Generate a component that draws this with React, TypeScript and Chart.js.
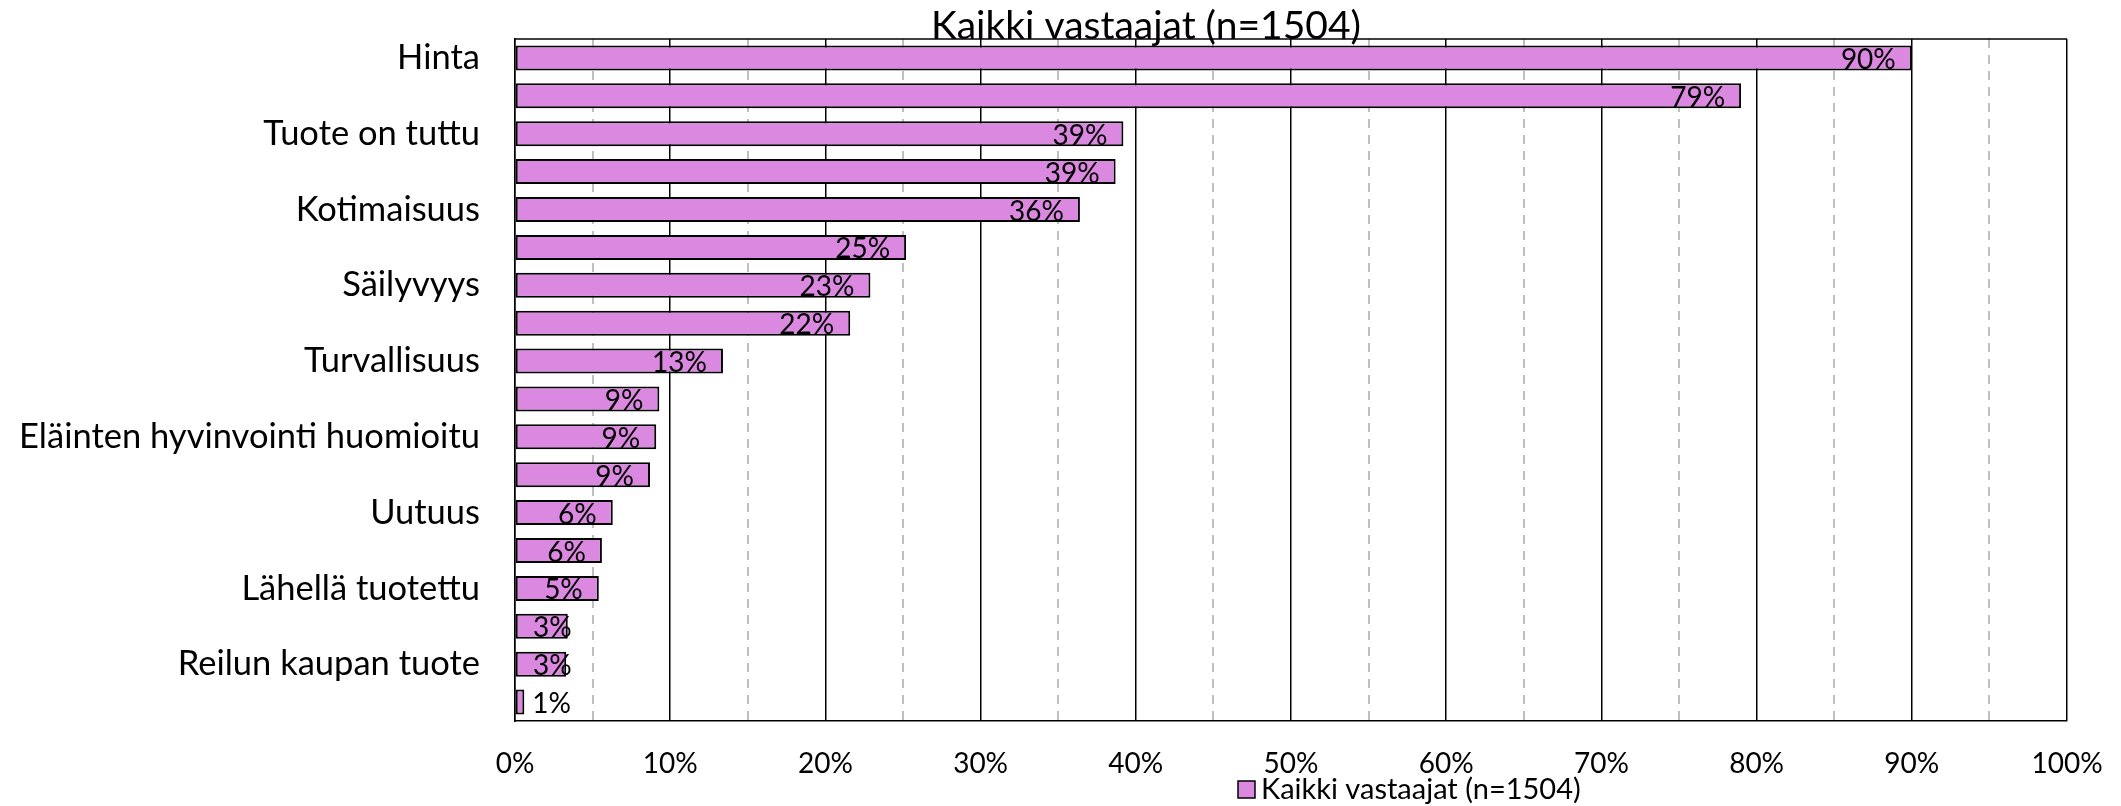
import React, { useEffect, useRef } from 'react';
import { Chart, registerables } from 'chart.js';

Chart.register(...registerables);

// ---- data ----
const categories: string[] = [
  'Hinta', '',
  'Tuote on tuttu', '',
  'Kotimaisuus', '',
  'Säilyvyys', '',
  'Turvallisuus', '',
  'Eläinten hyvinvointi huomioitu', '',
  'Uutuus', '',
  'Lähellä tuotettu', '',
  'Reilun kaupan tuote', '',
];
const values: number[] = [90.0, 79.0, 39.2, 38.7, 36.4, 25.2, 22.9, 21.6, 13.4, 9.3, 9.1, 8.7, 6.3, 5.6, 5.4, 3.4, 3.3, 0.6];
const seriesName = 'Kaikki vastaajat (n=1504)';
const chartTitle = 'Kaikki vastaajat (n=1504)';
const xTickLabels: string[] = ['0%', '10%', '20%', '30%', '40%', '50%', '60%', '70%', '80%', '90%', '100%'];

const BAR_COLOR = '#DA88E0';
const FONT = 'Lato';

const framePlugin = {
  id: 'frame',
  beforeDatasetsDraw(chart: any) {
    const { ctx, chartArea } = chart;
    ctx.save();
    ctx.strokeStyle = '#000';
    ctx.lineWidth = 1.5;
    ctx.beginPath();
    ctx.moveTo(chartArea.left, chartArea.top);
    ctx.lineTo(chartArea.right, chartArea.top);
    ctx.stroke();
    ctx.restore();
  },
};

const labelPlugin = {
  id: 'barLabels',
  afterDatasetsDraw(chart: any) {
    const { ctx } = chart;
    const meta = chart.getDatasetMeta(0);
    const base = chart.scales.x.getPixelForValue(0);
    ctx.save();
    ctx.font = `28px ${FONT}`;
    ctx.fillStyle = '#000';
    ctx.textBaseline = 'alphabetic';
    meta.data.forEach((el: any, i: number) => {
      const txt = Math.round(values[i]) + '%';
      const w = ctx.measureText(txt).width;
      const end = el.x;
      const y = el.y + 11;
      if (end - base < w * 0.6) {
        ctx.textAlign = 'left';
        ctx.fillText(txt, end + 8, y);
      } else {
        ctx.textAlign = 'right';
        ctx.fillText(txt, Math.max(end - 16, base + w + 18), y);
      }
    });
    ctx.restore();
  },
};

const titleLegendPlugin = {
  id: 'titleLegend',
  afterDraw(chart: any) {
    const { ctx } = chart;
    ctx.save();
    ctx.fillStyle = '#000';
    ctx.font = `39px ${FONT}`;
    ctx.textAlign = 'center';
    ctx.textBaseline = 'alphabetic';
    ctx.fillText(chartTitle, 1146, 39);
    // legend
    ctx.fillStyle = BAR_COLOR;
    ctx.fillRect(1238, 781, 17, 17);
    ctx.strokeStyle = '#000';
    ctx.lineWidth = 1.5;
    ctx.strokeRect(1238, 781, 17, 17);
    ctx.fillStyle = '#000';
    ctx.font = `29px ${FONT}`;
    ctx.textAlign = 'left';
    ctx.fillText(seriesName, 1261, 799);
    ctx.restore();
  },
};

export default function App() {
  const ref = useRef<HTMLCanvasElement | null>(null);
  useEffect(() => {
    if (!ref.current) return;
    const chart = new Chart(ref.current, {
      type: 'bar',
      data: {
        labels: categories,
        datasets: [
          {
            label: seriesName,
            data: values,
            backgroundColor: BAR_COLOR,
            borderColor: '#000',
            borderWidth: 2,
            borderSkipped: false,
            barPercentage: 0.66,
            categoryPercentage: 1,
          },
        ],
      },
      plugins: [framePlugin, labelPlugin, titleLegendPlugin],
      options: {
        indexAxis: 'y',
        animation: false,
        responsive: false,
        maintainAspectRatio: false,
        layout: { padding: { top: 39, right: 54, bottom: 15, left: 0 } },
        plugins: {
          legend: { display: false },
          title: { display: false },
          tooltip: { enabled: false },
        },
        scales: {
          x: {
            type: 'linear',
            min: 0,
            max: 100,
            afterFit(scale: any) {
              scale.height = 70;
              scale.paddingLeft = 0;
              scale.paddingRight = 0;
            },
            ticks: {
              stepSize: 5,
              autoSkip: false,
              maxRotation: 0,
              padding: 26,
              color: '#000',
              font: { family: FONT, size: 28 },
              callback: (v: any) => (Number(v) % 10 === 0 ? xTickLabels[Number(v) / 10] : ''),
            },
            grid: {
              drawTicks: false,
              color: (c: any) => (c.tick && c.tick.value % 10 === 0 ? '#000' : '#BFBFBF'),
              lineWidth: (c: any) => (c.tick && c.tick.value % 10 === 0 ? 1.5 : 2),
            },
            border: {
              display: true,
              color: '#000',
              width: 1.5,
              dash: (c: any) => (c.tick && c.tick.value % 10 !== 0 ? [9, 7] : []),
            },
          },
          y: {
            type: 'category',
            afterFit(scale: any) {
              scale.width = 515;
              scale.paddingTop = 0;
              scale.paddingBottom = 0;
            },
            ticks: {
              autoSkip: false,
              padding: 35,
              color: '#000',
              font: { family: FONT, size: 34.5 },
            },
            grid: { display: false, drawTicks: false },
            border: { display: true, color: '#000', width: 1.5 },
          },
        },
      },
    });
    return () => chart.destroy();
  }, []);
  return (
    <div style={{ position: 'fixed', left: 0, top: 0, width: 2121, height: 806, background: '#fff' }}>
      <canvas ref={ref} width={2121} height={806} style={{ width: 2121, height: 806, display: 'block' }} />
    </div>
  );
}
